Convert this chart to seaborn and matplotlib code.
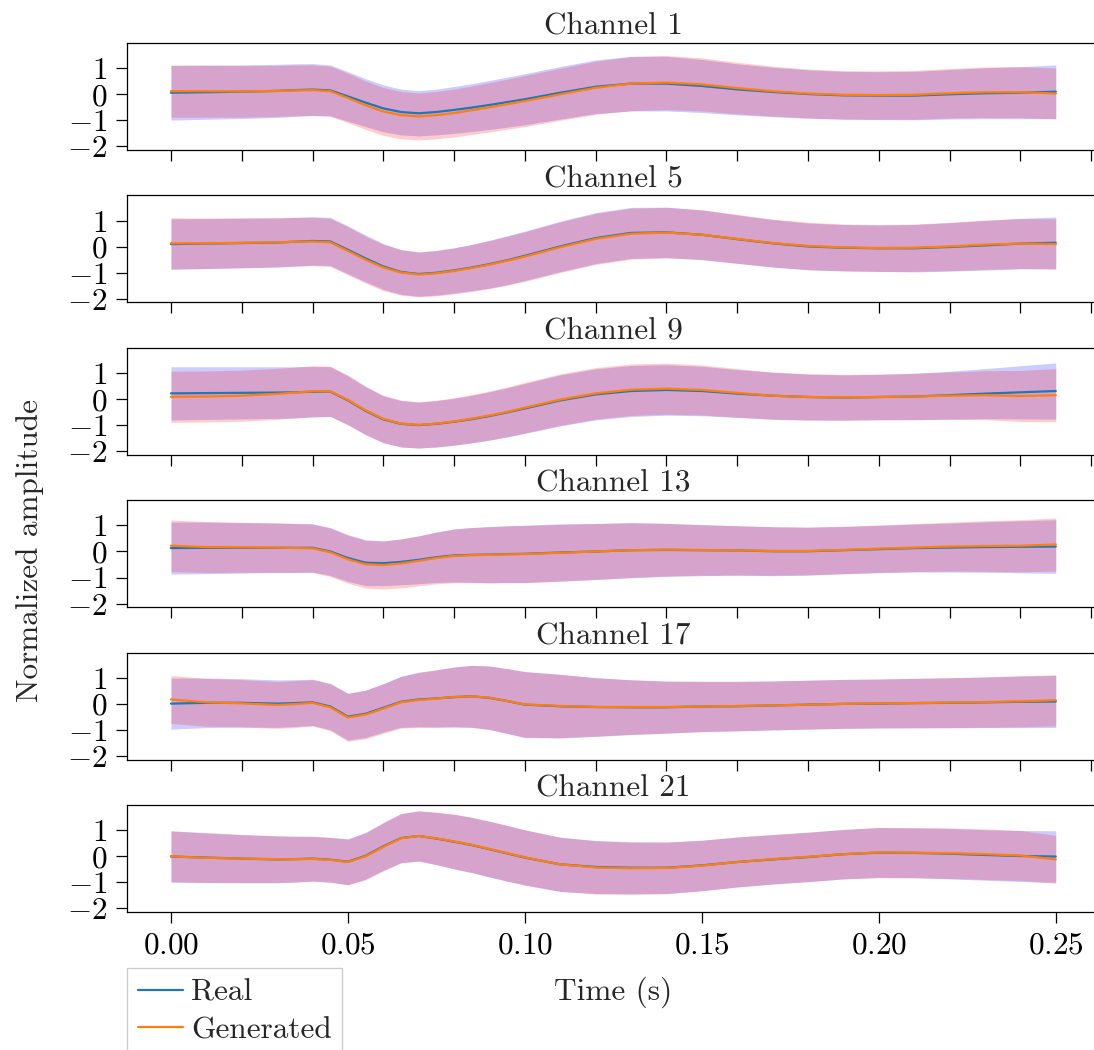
import numpy as np
import matplotlib
matplotlib.use("Agg")
import matplotlib.pyplot as plt
from matplotlib.ticker import MultipleLocator, FixedLocator, FuncFormatter
import seaborn as sns

# ---------------- data ----------------
time_s = [0.00, 0.01, 0.02, 0.03, 0.035, 0.04, 0.045, 0.05, 0.055, 0.06, 0.065, 0.07, 0.075,
          0.08, 0.085, 0.09, 0.095, 0.10, 0.11, 0.12, 0.13, 0.14, 0.15, 0.16, 0.17, 0.18,
          0.19, 0.20, 0.21, 0.22, 0.23, 0.24, 0.25]

channels = ["Channel 1", "Channel 5", "Channel 9", "Channel 13", "Channel 17", "Channel 21"]

real_mean_ch1 = [0.06, 0.08, 0.10, 0.13, 0.16, 0.18, 0.15, -0.08, -0.32, -0.54, -0.68, -0.73, -0.68, -0.60, -0.51, -0.41, -0.30, -0.19,
                 0.06, 0.29, 0.41, 0.41, 0.32, 0.19, 0.09, 0.01, -0.04, -0.05, -0.05, 0.00, 0.04, 0.06, 0.10]
gen_mean_ch1 = [0.12, 0.12, 0.11, 0.13, 0.15, 0.16, 0.12, -0.14, -0.42, -0.66, -0.80, -0.85, -0.80, -0.72, -0.61, -0.50, -0.38, -0.26,
                0.00, 0.25, 0.41, 0.45, 0.38, 0.24, 0.12, 0.03, -0.02, -0.03, -0.02, 0.04, 0.08, 0.08, 0.03]
real_std_ch1 = [1.05, 1.04, 1.03, 1.02, 1.01, 1.00, 0.98, 0.95, 0.92, 0.90, 0.88, 0.87, 0.88, 0.90, 0.92, 0.94, 0.96, 0.98,
                1.01, 1.03, 1.05, 1.05, 1.02, 0.98, 0.95, 0.93, 0.92, 0.92, 0.93, 0.95, 0.98, 1.00, 1.03]
gen_std_ch1 = [1.00, 1.00, 0.99, 0.98, 0.975, 0.97, 0.96, 0.95, 0.93, 0.92, 0.91, 0.90, 0.91, 0.92, 0.93, 0.95, 0.96, 0.98,
               1.00, 1.02, 1.04, 1.04, 1.02, 0.99, 0.96, 0.94, 0.93, 0.93, 0.94, 0.95, 0.97, 0.98, 0.98]

real_mean_ch5 = [0.10, 0.12, 0.14, 0.16, 0.19, 0.22, 0.20, -0.12, -0.45, -0.76, -0.97, -1.05, -1.00, -0.91, -0.80, -0.67, -0.52, -0.35,
                 0.01, 0.33, 0.53, 0.55, 0.46, 0.29, 0.13, 0.01, -0.04, -0.06, -0.06, -0.01, 0.05, 0.12, 0.15]
gen_mean_ch5 = [0.13, 0.13, 0.15, 0.17, 0.19, 0.20, 0.17, -0.16, -0.50, -0.80, -0.99, -1.07, -1.02, -0.93, -0.82, -0.69, -0.54, -0.38,
                -0.02, 0.30, 0.50, 0.54, 0.46, 0.30, 0.14, 0.03, -0.03, -0.05, -0.04, 0.01, 0.08, 0.12, 0.10]
real_std_ch5 = [0.97, 0.96, 0.95, 0.94, 0.935, 0.93, 0.925, 0.92, 0.90, 0.88, 0.86, 0.85, 0.86, 0.87, 0.89, 0.92, 0.94, 0.95,
                0.97, 0.98, 0.98, 0.97, 0.95, 0.93, 0.91, 0.90, 0.89, 0.89, 0.91, 0.93, 0.95, 0.97, 0.99]
gen_std_ch5 = [0.98, 0.97, 0.96, 0.95, 0.94, 0.93, 0.925, 0.92, 0.90, 0.89, 0.87, 0.86, 0.87, 0.88, 0.90, 0.92, 0.94, 0.95,
               0.97, 0.98, 0.98, 0.97, 0.96, 0.94, 0.92, 0.91, 0.90, 0.90, 0.91, 0.93, 0.95, 0.96, 0.97]

real_mean_ch9 = [0.22, 0.23, 0.24, 0.25, 0.26, 0.28, 0.29, -0.05, -0.45, -0.78, -0.95, -1.00, -0.95, -0.87, -0.77, -0.65, -0.51, -0.36,
                 -0.05, 0.18, 0.31, 0.35, 0.31, 0.21, 0.13, 0.08, 0.06, 0.08, 0.10, 0.15, 0.21, 0.26, 0.31]
gen_mean_ch9 = [0.09, 0.10, 0.13, 0.20, 0.25, 0.30, 0.30, -0.03, -0.43, -0.76, -0.94, -0.99, -0.94, -0.86, -0.75, -0.63, -0.49, -0.33,
                -0.02, 0.22, 0.36, 0.40, 0.35, 0.24, 0.13, 0.08, 0.07, 0.08, 0.10, 0.13, 0.15, 0.12, 0.15]
real_std_ch9 = [1.02, 1.01, 1.00, 0.99, 0.98, 0.97, 0.955, 0.94, 0.92, 0.90, 0.89, 0.88, 0.89, 0.90, 0.915, 0.93, 0.945, 0.96,
                0.98, 0.98, 0.98, 0.97, 0.95, 0.92, 0.90, 0.88, 0.87, 0.87, 0.89, 0.92, 0.96, 1.02, 1.08]
gen_std_ch9 = [0.98, 0.98, 0.98, 0.98, 0.98, 0.98, 0.965, 0.95, 0.93, 0.91, 0.90, 0.89, 0.90, 0.91, 0.925, 0.94, 0.955, 0.97,
               0.99, 0.99, 0.99, 0.98, 0.96, 0.93, 0.91, 0.89, 0.88, 0.88, 0.89, 0.91, 0.94, 0.98, 1.02]

real_mean_ch13 = [0.13, 0.14, 0.14, 0.14, 0.14, 0.14, 0.00, -0.25, -0.43, -0.45, -0.40, -0.32, -0.22, -0.15, -0.13, -0.12, -0.10, -0.09,
                  -0.04, 0.00, 0.05, 0.06, 0.05, 0.04, 0.01, 0.01, 0.05, 0.09, 0.13, 0.15, 0.17, 0.18, 0.19]
gen_mean_ch13 = [0.22, 0.17, 0.16, 0.15, 0.13, 0.12, -0.03, -0.30, -0.49, -0.52, -0.46, -0.36, -0.25, -0.17, -0.14, -0.13, -0.11, -0.10,
                 -0.05, 0.00, 0.05, 0.07, 0.06, 0.04, 0.02, 0.02, 0.06, 0.11, 0.15, 0.19, 0.21, 0.22, 0.27]
real_std_ch13 = [1.00, 0.99, 0.97, 0.95, 0.94, 0.93, 0.92, 0.90, 0.88, 0.86, 0.88, 0.92, 0.97, 1.02, 1.05, 1.08, 1.09, 1.10,
                 1.10, 1.08, 1.06, 1.02, 0.98, 0.95, 0.94, 0.92, 0.91, 0.91, 0.92, 0.94, 0.97, 1.00, 1.03]
gen_std_ch13 = [0.99, 0.98, 0.96, 0.95, 0.94, 0.93, 0.93, 0.92, 0.92, 0.92, 0.94, 0.96, 0.99, 1.03, 1.06, 1.08, 1.09, 1.10,
                1.09, 1.07, 1.05, 1.01, 0.97, 0.95, 0.93, 0.92, 0.91, 0.91, 0.92, 0.94, 0.97, 1.00, 1.02]

real_mean_ch17 = [0.01, 0.04, 0.04, 0.01, 0.03, 0.06, -0.10, -0.49, -0.38, -0.15, 0.08, 0.17, 0.21, 0.26, 0.29, 0.23, 0.11, -0.03,
                  -0.09, -0.12, -0.13, -0.13, -0.10, -0.09, -0.06, -0.03, 0.00, 0.01, 0.03, 0.04, 0.06, 0.08, 0.09]
gen_mean_ch17 = [0.17, 0.06, 0.02, -0.04, -0.01, 0.04, -0.13, -0.52, -0.41, -0.18, 0.06, 0.15, 0.20, 0.27, 0.29, 0.24, 0.11, -0.02,
                 -0.08, -0.12, -0.12, -0.12, -0.10, -0.08, -0.06, -0.03, 0.00, 0.02, 0.03, 0.05, 0.07, 0.10, 0.14]
real_std_ch17 = [0.98, 0.95, 0.93, 0.91, 0.90, 0.89, 0.89, 0.90, 0.91, 0.93, 0.98, 1.05, 1.10, 1.15, 1.19, 1.22, 1.25, 1.27,
                 1.22, 1.13, 1.05, 1.00, 0.96, 0.95, 0.94, 0.94, 0.94, 0.94, 0.95, 0.96, 0.97, 0.99, 1.00]
gen_std_ch17 = [0.92, 0.92, 0.91, 0.90, 0.90, 0.89, 0.90, 0.92, 0.93, 0.95, 0.99, 1.05, 1.10, 1.15, 1.19, 1.22, 1.24, 1.26,
                1.22, 1.12, 1.05, 1.00, 0.97, 0.95, 0.94, 0.94, 0.94, 0.94, 0.95, 0.96, 0.97, 0.98, 0.98]

real_mean_ch21 = [-0.01, -0.05, -0.09, -0.12, -0.11, -0.09, -0.13, -0.21, 0.02, 0.38, 0.70, 0.78, 0.68, 0.56, 0.43, 0.27, 0.11, -0.05,
                  -0.31, -0.41, -0.44, -0.44, -0.35, -0.22, -0.12, -0.03, 0.08, 0.14, 0.13, 0.10, 0.05, 0.01, -0.01]
gen_mean_ch21 = [0.00, -0.06, -0.09, -0.11, -0.11, -0.10, -0.14, -0.22, 0.00, 0.36, 0.69, 0.78, 0.69, 0.57, 0.44, 0.28, 0.12, -0.04,
                 -0.31, -0.43, -0.46, -0.45, -0.36, -0.22, -0.11, -0.02, 0.08, 0.15, 0.14, 0.12, 0.08, 0.03, -0.12]
real_std_ch21 = [0.99, 0.96, 0.93, 0.90, 0.88, 0.86, 0.86, 0.88, 0.90, 0.92, 0.94, 0.96, 1.00, 1.05, 1.06, 1.07, 1.07, 1.06,
                 1.04, 1.02, 1.00, 0.99, 0.97, 0.96, 0.95, 0.95, 0.95, 0.96, 0.96, 0.97, 0.97, 0.98, 0.99]
gen_std_ch21 = [0.97, 0.95, 0.92, 0.90, 0.88, 0.86, 0.86, 0.88, 0.90, 0.92, 0.95, 0.97, 1.01, 1.05, 1.06, 1.07, 1.07, 1.06,
                1.04, 1.02, 1.00, 0.99, 0.97, 0.96, 0.95, 0.95, 0.95, 0.96, 0.96, 0.97, 0.97, 0.96, 0.92]

real_means = [real_mean_ch1, real_mean_ch5, real_mean_ch9, real_mean_ch13, real_mean_ch17, real_mean_ch21]
gen_means = [gen_mean_ch1, gen_mean_ch5, gen_mean_ch9, gen_mean_ch13, gen_mean_ch17, gen_mean_ch21]
real_stds = [real_std_ch1, real_std_ch5, real_std_ch9, real_std_ch13, real_std_ch17, real_std_ch21]
gen_stds = [gen_std_ch1, gen_std_ch5, gen_std_ch9, gen_std_ch13, gen_std_ch17, gen_std_ch21]

y_ticks = [-2, -1, 0, 1]
x_ticks_bottom = [0.00, 0.05, 0.10, 0.15, 0.20, 0.25]

# ---------------- style ----------------
sns.set_theme(style="ticks")
FS = 22.5
plt.rcParams.update({
    "font.family": ["serif"],
    "font.serif": ["cmr10"],
    "mathtext.fontset": "cm",
    "axes.formatter.use_mathtext": True,
    "axes.unicode_minus": True,
    "font.size": FS,
    "axes.titlesize": FS,
    "axes.labelsize": FS,
    "xtick.labelsize": FS,
    "ytick.labelsize": FS,
    "legend.fontsize": FS,
    "axes.edgecolor": "black",
    "axes.linewidth": 0.9,
    "xtick.color": "black",
    "ytick.color": "black",
    "xtick.major.size": 8,
    "ytick.major.size": 8,
    "xtick.major.width": 0.9,
    "ytick.major.width": 0.9,
})

W, H = 1094, 1050
fig = plt.figure(figsize=(W / 100, H / 100), dpi=100)
gs = fig.add_gridspec(6, 1, left=126.7 / W, right=1100 / W,
                      top=1 - 43 / H, bottom=1 - 912 / H, hspace=0.424)

t = np.array(time_s)
for i, name in enumerate(channels):
    ax = fig.add_subplot(gs[i, 0])
    rm, gm = np.array(real_means[i]), np.array(gen_means[i])
    rs, gsd = np.array(real_stds[i]), np.array(gen_stds[i])
    ax.fill_between(t, rm - rs, rm + rs, color="blue", alpha=0.2, linewidth=0)
    ax.fill_between(t, gm - gsd, gm + gsd, color="red", alpha=0.2, linewidth=0)
    sns.lineplot(x=t, y=rm, ax=ax, color="#1f77b4", linewidth=1.6,
                 label="Real" if i == 0 else None, legend=False)
    sns.lineplot(x=t, y=gm, ax=ax, color="#ff7f0e", linewidth=1.6,
                 label="Generated" if i == 0 else None, legend=False)
    ax.set_title(name, pad=6)
    ax.set_xlim(-0.0125, 0.2625)
    ax.set_ylim(-2.14, 1.97)
    ax.yaxis.set_major_locator(FixedLocator(y_ticks))
    ax.tick_params(axis="y", pad=6)
    ax.set_ylabel("")
    if i < 5:
        ax.xaxis.set_major_locator(MultipleLocator(0.02))
        ax.tick_params(axis="x", labelbottom=False)
        ax.set_xlabel("")
    else:
        ax.xaxis.set_major_locator(FixedLocator(x_ticks_bottom))
        ax.xaxis.set_major_formatter(FuncFormatter(
            lambda v, p: r"$\mathdefault{%.2f}$" % v))
        ax.tick_params(axis="x", pad=6)
        ax.set_xlabel("Time (s)", labelpad=12)
    if i == 0:
        handles, labels = ax.get_legend_handles_labels()

fig.text(30 / W, 1 - 551 / H, "Normalized amplitude", rotation=90,
         ha="center", va="center", fontsize=FS)

fig.legend(handles, labels, loc="upper left",
           bbox_to_anchor=(126.7 / W, 1 - 968 / H), borderaxespad=0,
           frameon=True, fancybox=False, framealpha=1, edgecolor="#cccccc",
           handlelength=1.45, handletextpad=0.25, labelspacing=0.3,
           borderpad=0.35)

fig.savefig("out.png", dpi=100)
